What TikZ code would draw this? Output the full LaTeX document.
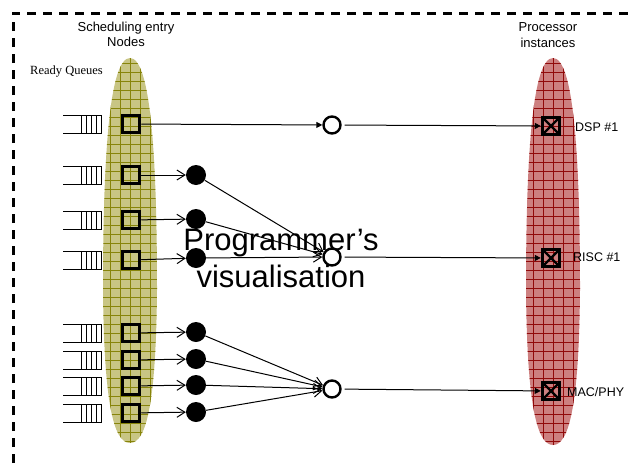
\documentclass[tikz,border=0pt]{standalone}
\usepackage{fontspec}
\setmainfont{Liberation Sans}
\newfontfamily\serifface{Liberation Serif}
\usetikzlibrary{arrows.meta}
\definecolor{olivefill}{RGB}{200,197,132}
\definecolor{olivegrid}{RGB}{135,132,10}
\definecolor{redfill}{RGB}{205,128,128}
\definecolor{redgrid}{RGB}{145,10,10}
\begin{document}
\begin{tikzpicture}[x=1pt,y=-1pt,
  sched/.style={draw, line width=3pt, minimum size=17.5pt, inner sep=0pt},
  dot/.style={circle, fill=black, minimum size=20pt, inner sep=0pt},
  merge/.style={circle, draw, line width=2.4pt, fill=white, minimum size=17pt, inner sep=0pt},
  proc/.style={draw, line width=3pt, minimum size=17.5pt, inner sep=0pt,
    path picture={\draw[line width=2.2pt] (path picture bounding box.south west) -- (path picture bounding box.north east)
      (path picture bounding box.north west) -- (path picture bounding box.south east);}},
  openarr/.style={-{Straight Barb[length=8pt,width=10pt]}, line width=1pt},
  fillarr/.style={-{Triangle[length=6pt,width=6pt]}, line width=1pt},
  lbl/.style={font=\fontsize{12.5}{15}\selectfont, anchor=west, inner sep=0pt},
  title/.style={font=\fontsize{13}{15.5}\selectfont, align=center, inner sep=0pt},
  big/.style={font=\fontsize{31}{37}\selectfont, anchor=base, inner sep=0pt},
  queueline/.style={line width=1pt},
]
\useasboundingbox (0,0) rectangle (631,463);

% dashed frame
\draw[line width=3pt, dash pattern=on 9pt off 7pt] (13,463) -- (13,13) -- (631,13);

% egg-shaped regions with grid
\begin{scope}
  \clip (130,58) .. controls (150,58) and (157,150) .. (157,290)
        .. controls (156,400) and (147,443) .. (130,443)
        .. controls (113,443) and (104,400) .. (103,290)
        .. controls (103,150) and (110,58) .. (130,58) -- cycle;
  \fill[olivefill] (100,50) rectangle (160,450);
  \draw[olivegrid, line width=0.7pt] (100,50) grid [xstep=10pt, ystep=9pt] (160,450);
\end{scope}
\begin{scope}[xshift=423pt]
  \clip (130,58) .. controls (150,58) and (157,150) .. (157,290)
        .. controls (156,400) and (147,445) .. (130,445)
        .. controls (113,445) and (104,400) .. (103,290)
        .. controls (103,150) and (110,58) .. (130,58) -- cycle;
  \fill[redfill] (100,50) rectangle (160,450);
  \draw[redgrid, line width=0.7pt] (100,50) grid [xstep=10pt, ystep=9pt] (160,450);
\end{scope}

% titles
\node[title] (tsched) at (126,34.5) {Scheduling entry\\Nodes};
\node[title] (tproc) at (548,35) {Processor\\instances};
\node[font=\serifface\fontsize{12.5}{15}\selectfont, anchor=west, inner sep=0pt] (ready) at (30,72) {Ready Queues};

% queues
\foreach \y in {124,175,220,260,333,360,386,413} {
  \draw[queueline] (63,\y-9) -- (102,\y-9) (63,\y+9) -- (102,\y+9);
  \foreach \x in {81,86,91,96,101.5} {
    \draw[queueline] (\x,\y-9) -- (\x,\y+9);
  }
}

% scheduling entry squares
\node[sched] (s1) at (131,124) {};
\node[sched] (s2) at (131,175) {};
\node[sched] (s3) at (131,220) {};
\node[sched] (s4) at (131,260) {};
\node[sched] (s5) at (131,333) {};
\node[sched] (s6) at (131,360) {};
\node[sched] (s7) at (131,386) {};
\node[sched] (s8) at (131,413) {};

% black dots
\node[dot] (d2) at (196,175) {};
\node[dot] (d3) at (196,219) {};
\node[dot] (d4) at (196,258) {};
\node[dot] (d5) at (196,332) {};
\node[dot] (d6) at (196,359) {};
\node[dot] (d7) at (196,385) {};
\node[dot] (d8) at (196,412) {};

% merge circles
\node[merge] (m1) at (332,125) {};
\node[merge] (m2) at (332,257) {};
\node[merge] (m3) at (332,389) {};

% processor boxes
\node[proc] (p1) at (551,126) {};
\node[proc] (p2) at (551,258) {};
\node[proc] (p3) at (551,391) {};

\node[lbl] (lp1) at (575,127) {DSP \#1};
\node[lbl] (lp2) at (573,257) {RISC \#1};
\node[lbl] (lp3) at (567,392) {MAC/PHY};

% connectors
\draw[fillarr] (s1) -- (m1);
\foreach \i in {2,...,8} { \draw[openarr] (s\i) -- (d\i); }
\foreach \i in {2,3,4} { \draw[openarr] (d\i) -- (m2); }
\foreach \i in {5,6,7,8} { \draw[openarr] (d\i) -- (m3); }
\draw[fillarr, shorten <=3pt] (m1) -- (p1);
\draw[fillarr, shorten <=3pt] (m2) -- (p2);
\draw[fillarr, shorten <=3pt] (m3) -- (p3);

% big overlay text
\node[big] (prog) at (281,250) {Programmer’s};
\node[big] (vis) at (281,287) {visualisation};
\end{tikzpicture}
\end{document}
